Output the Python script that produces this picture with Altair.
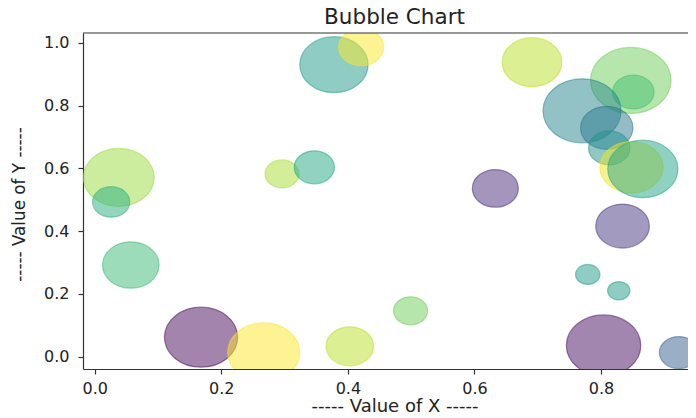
import altair as alt
import pandas as pd

# Bubble data
x_vals = [0.378, 0.421, 0.296, 0.347, 0.038, 0.026, 0.057, 0.168, 0.267, 0.403,
          0.499, 0.633, 0.804, 0.834, 0.779, 0.828, 0.923, 0.691, 0.847, 0.851,
          0.770, 0.809, 0.813, 0.848, 0.866]
y_vals = [0.930, 0.986, 0.582, 0.603, 0.571, 0.493, 0.292, 0.062, 0.014, 0.033,
          0.146, 0.536, 0.036, 0.416, 0.262, 0.210, 0.013, 0.938, 0.880, 0.843,
          0.783, 0.729, 0.665, 0.603, 0.598]
sizes = [3136, 1369, 784, 1089, 3364, 930, 2153, 3600, 3481, 1521,
         784, 1421, 3721, 1936, 400, 335, 1024, 2401, 4356, 1156,
         4096, 1849, 1156, 2673, 3306]
colors = [0.55, 1.0, 0.87, 0.60, 0.85, 0.62, 0.68, 0.02, 1.0, 0.90,
          0.78, 0.12, 0.03, 0.15, 0.55, 0.55, 0.30, 0.90, 0.78, 0.70,
          0.45, 0.40, 0.50, 0.98, 0.58]

x_ticks = [0.0, 0.2, 0.4, 0.6, 0.8]
y_ticks = [0.0, 0.2, 0.4, 0.6, 0.8, 1.0]

df = pd.DataFrame({"x": x_vals, "y": y_vals, "s": sizes, "c": colors})

# horizontally stretched ellipse symbol (reference picture is stretched ~1.22x)
ELLIPSE = ("M1.22,0 C1.22,0.5523 0.6738,1 0,1 C-0.6738,1 -1.22,0.5523 -1.22,0 "
           "C-1.22,-0.5523 -0.6738,-1 0,-1 C0.6738,-1 1.22,-0.5523 1.22,0 Z")

W, H = 605, 336
FONT = "DejaVu Sans"
cscale = alt.Scale(scheme="viridis", domain=[0, 1])

points = alt.Chart(df).mark_point(
    shape=ELLIPSE, filled=True, fillOpacity=0.5, strokeOpacity=0.5,
    strokeWidth=1.2, clip=True
).encode(
    x=alt.X("x:Q",
            scale=alt.Scale(domain=[-0.0185, 0.9374], nice=False, zero=False),
            axis=alt.Axis(values=x_ticks, format=".1f",
                          title="----- Value of X -----",
                          titleFontSize=18, titleX=311.5, titleY=42,
                          titleBaseline="alphabetic", titleAlign="center",
                          labelPadding=6)),
    y=alt.Y("y:Q",
            scale=alt.Scale(domain=[-0.0392, 1.0309], nice=False, zero=False),
            axis=alt.Axis(values=y_ticks, format=".1f",
                          title="----- Value of Y -----",
                          titleFontSize=16.8, titleX=-64, titleY=171,
                          titleAngle=270, titleBaseline="middle",
                          titleAlign="center", labelPadding=9)),
    size=alt.Size("s:Q", scale=None, legend=None),
    color=alt.Color("c:Q", scale=cscale, legend=None),
    stroke=alt.Stroke("c:Q", scale=cscale, legend=None),
)

top_spine = alt.Chart(pd.DataFrame({"a": [0]})).mark_rule(
    color="#333333", strokeWidth=1.2
).encode(x=alt.value(0), x2=alt.value(W), y=alt.value(0))

chart = alt.layer(points, top_spine).properties(
    width=W, height=H,
    padding={"left": 75, "top": 25, "right": 0, "bottom": 44},
    autosize=alt.AutoSizeParams(type="none"),
    title=alt.TitleParams("Bubble Chart", font=FONT, fontSize=21.5,
                          fontWeight="normal", color="#222222",
                          anchor="middle", offset=4, dx=9),
).configure_view(stroke=None).configure_axis(
    labelFont=FONT, labelFontSize=16, labelColor="#222222",
    titleFont=FONT, titleFontWeight="normal", titleColor="#222222",
    tickColor="#333333", domainColor="#333333", tickSize=5,
    tickWidth=1.2, domainWidth=1.2, grid=False,
)

chart.save("out.html", embed_options={"renderer": "svg", "actions": False})
